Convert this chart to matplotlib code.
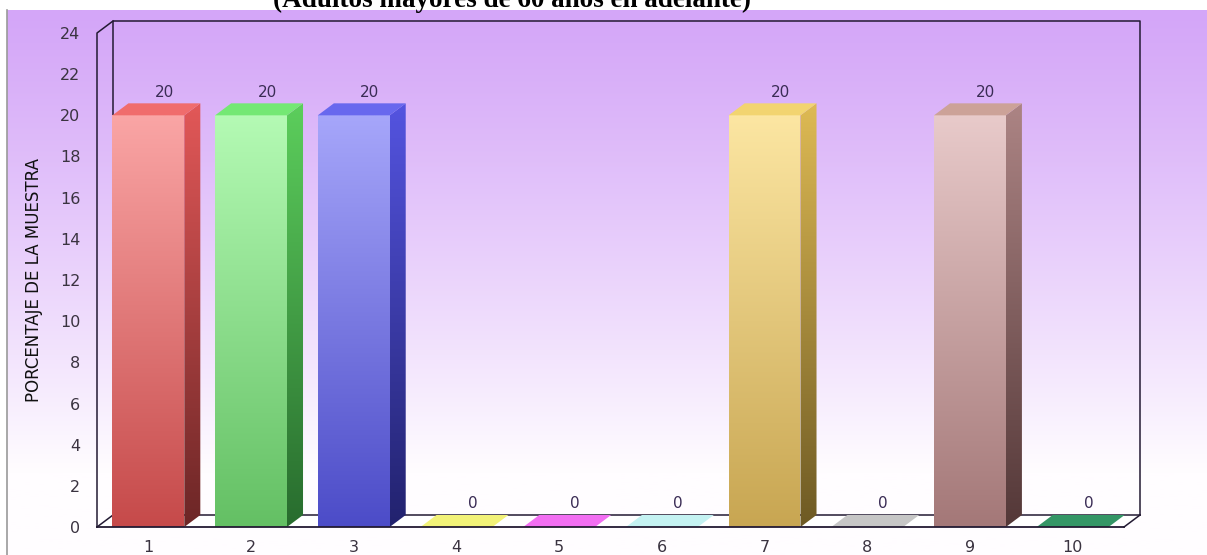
#!/usr/bin/env python3
"""Pseudo-3D bar chart: porcentaje de la muestra por categoría."""

import matplotlib

matplotlib.use("Agg")
import matplotlib.pyplot as plt
import numpy as np
from matplotlib.patches import Polygon

categories = [1, 2, 3, 4, 5, 6, 7, 8, 9, 10]
values = [20, 20, 20, 0, 0, 0, 20, 0, 20, 0]

# (front top, front bottom, side top, side bottom, top face) per bar
bar_colors = [
    ((250, 165, 165), (198, 74, 74), (226, 88, 88), (108, 38, 38), (240, 108, 108)),
    ((180, 250, 180), (100, 192, 100), (92, 206, 92), (40, 108, 46), (116, 232, 116)),
    ((166, 166, 250), (76, 76, 200), (84, 84, 224), (34, 34, 110), (104, 104, 238)),
    ((242, 242, 120), (242, 242, 120), (242, 242, 120), (242, 242, 120), (242, 242, 120)),
    ((242, 110, 242), (242, 110, 242), (242, 110, 242), (242, 110, 242), (242, 110, 242)),
    ((196, 242, 242), (196, 242, 242), (196, 242, 242), (196, 242, 242), (196, 242, 242)),
    ((252, 230, 162), (200, 166, 82), (222, 186, 84), (110, 90, 36), (242, 212, 112)),
    ((198, 198, 198), (198, 198, 198), (198, 198, 198), (198, 198, 198), (198, 198, 198)),
    ((232, 202, 202), (164, 120, 120), (172, 132, 132), (84, 56, 56), (204, 162, 152)),
    ((52, 150, 102), (52, 150, 102), (52, 150, 102), (52, 150, 102), (52, 150, 102)),
]

title = "(Adultos mayores de 60 años en adelante)"
ylabel = "PORCENTAJE DE LA MUESTRA"

W, H = 1207, 555
BAR_W = 0.70
DX, DY = 0.156, 0.583  # depth offset in data units
LINE = "#231a33"
TEXT = "#3a2c55"


def rgb(c):
    return np.array(c, dtype=float) / 255.0


def shade(ax, pts, top, bottom, zorder):
    poly = Polygon(pts, closed=True, facecolor="none", edgecolor="none")
    ax.add_patch(poly)
    xs, ys = zip(*pts)
    t = np.linspace(0, 1, 128)[:, None, None]
    img = (1 - t) * rgb(top) + t * rgb(bottom)
    im = ax.imshow(img, extent=[min(xs), max(xs), min(ys), max(ys)], origin="upper",
                   aspect="auto", interpolation="bilinear", zorder=zorder)
    im.set_clip_path(poly)


fig = plt.figure(figsize=(W / 100, H / 100), dpi=100)

# page background: white strip for the title, lilac gradient below
bg = fig.add_axes([0, 0, 1, 1], zorder=-1)
bg.set_xlim(0, W)
bg.set_ylim(H, 0)
bg.axis("off")
rows = np.linspace(0, 1, 256)[:, None, None]
ramp = np.clip(rows / 0.85, 0, 1) ** 1.15
grad = (1 - ramp) * rgb((212, 166, 248)) + ramp * rgb((255, 253, 255))
bg.imshow(grad, extent=[7, W, H, 10], aspect="auto", interpolation="bilinear")
bg.plot([7, 7], [10, H], color="#9a9a9a", lw=1.2)
bg.text(512, 7, title, ha="center", va="baseline", fontsize=19.5, fontweight="bold",
        family="Liberation Serif", color="black")

ax = fig.add_axes([97 / W, 28 / H, 1027 / W, 494 / H])
ax.patch.set_visible(False)
x0, x1, ytop = 0.5, 10.5, 24

# floor
ax.add_patch(Polygon([(x0, 0), (x1, 0), (x1 + DX, DY), (x0 + DX, DY)], closed=True,
                     facecolor="white", edgecolor="none", zorder=1, clip_on=False))

# frame lines: front axis, back wall, floor edges
kw = dict(color=LINE, lw=1.1, clip_on=False, zorder=2)
ax.plot([x0, x0, x0 + DX], [0, ytop, ytop + DY], **kw)
ax.plot([x0 + DX, x0 + DX, x1 + DX, x1 + DX], [DY, ytop + DY, ytop + DY, DY], **kw)
ax.plot([x0 + DX, x1 + DX], [DY, DY], **kw)
ax.plot([x0, x0 + DX], [0, DY], **kw)
ax.plot([x1, x1 + DX], [0, DY], **kw)
ax.plot([x0, x1], [0, 0], color=LINE, lw=1.3, clip_on=False, zorder=6)

for c, v, cols in zip(categories, values, bar_colors):
    ft, fb, st, sb, tp = cols
    left, right = c - BAR_W / 2, c + BAR_W / 2
    if v > 0:
        shade(ax, [(left, 0), (right, 0), (right, v), (left, v)], ft, fb, 4)
        shade(ax, [(right, 0), (right + DX, DY), (right + DX, v + DY), (right, v)], st, sb, 4)
        ax.add_patch(Polygon([(left, v), (right, v), (right + DX, v + DY), (left + DX, v + DY)],
                             closed=True, facecolor=rgb(tp), edgecolor="none", zorder=4))
    else:
        ax.add_patch(Polygon([(left, 0), (right, 0), (right + DX, DY), (left + DX, DY)],
                             closed=True, facecolor=rgb(tp), edgecolor="none", zorder=3))
    ax.text(c + DX, v + DY + 0.55, f"{v}", ha="center", va="center", fontsize=11,
            color=TEXT, zorder=7)

ax.set_xlim(x0, x1)
ax.set_ylim(0, ytop)
ax.set_yticks(range(0, 25, 2))
ax.set_xticks(categories)
ax.tick_params(axis="both", length=0, labelsize=11.5, labelcolor="#3a3340")
ax.tick_params(axis="y", pad=12)
ax.tick_params(axis="x", pad=9)
for s in ax.spines.values():
    s.set_visible(False)
ax.set_ylabel(ylabel, family=["Liberation Sans Narrow", "DejaVu Sans"], fontsize=12,
              color="#111111", labelpad=12)

fig.savefig("out.png", dpi=100)
